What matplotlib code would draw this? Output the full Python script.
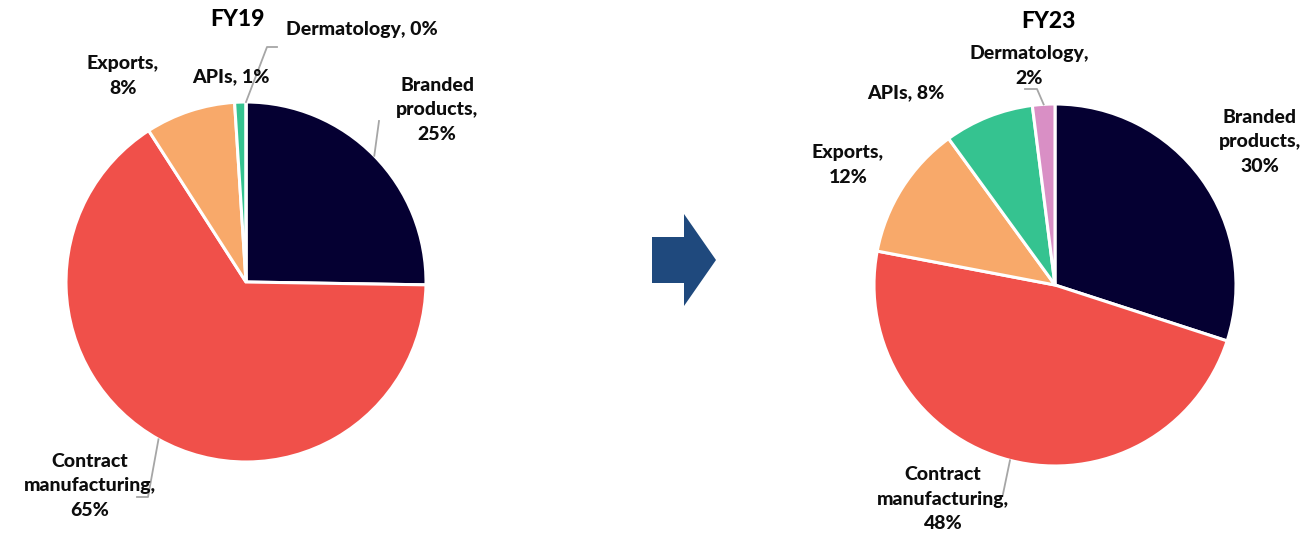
import matplotlib
matplotlib.use("Agg")
import matplotlib.pyplot as plt
from matplotlib.patches import Polygon
from matplotlib.lines import Line2D
import numpy as np

plt.rcParams['font.family'] = ['Lato', 'DejaVu Sans']

W, H = 1314, 536

segments = ["Branded\nproducts", "Contract\nmanufacturing", "Exports", "APIs", "Dermatology"]
colors = ["#050032", "#F0504A", "#F8A96A", "#35C390", "#D98FC5"]

fy19_share = [25, 65, 8, 1, 0]
fy23_share = [30, 48, 12, 8, 2]

# label text written as it appears next to each slice
fy19_labels = ["Branded\nproducts,\n25%", "Contract\nmanufacturing,\n65%", "Exports,\n8%",
               "APIs, 1%", "Dermatology, 0%"]
fy23_labels = ["Branded\nproducts,\n30%", "Contract\nmanufacturing,\n48%", "Exports,\n12%",
               "APIs, 8%", "Dermatology,\n2%"]

# canvas pixel layout: pie centre / radius, label centres, leader elbows
fy19_layout = dict(center=(246, 282), r=180, title=(238, 20),
                   text=[(437, 110), (90, 486), (123, 76), (231, 77), (362, 29)],
                   leaders={0: [(379, 121)], 1: [(137, 497), (148, 497)],
                            4: [(277, 47), (267, 47)]})
fy23_layout = dict(center=(1055, 285), r=181, title=(1048, 22),
                   text=[(1260, 142), (943, 499), (848, 165), (906, 93), (1029, 66)],
                   leaders={1: [(1003, 494)], 4: [(1025, 89), (1037, 89)]})


def fig_xy(x, y):
    return x / W, 1 - y / H


fig = plt.figure(figsize=(W / 100, H / 100), dpi=100)


def draw_pie(values, labels, title, lay):
    cx, cy = lay["center"]
    r = lay["r"]
    ax = fig.add_axes([(cx - r) / W, 1 - (cy + r) / H, 2 * r / W, 2 * r / H])
    wedges, _ = ax.pie(values, colors=colors, startangle=90, counterclock=False,
                       radius=1, wedgeprops=dict(edgecolor="white", linewidth=2.2))
    ax.set_xlim(-1, 1)
    ax.set_ylim(-1, 1)
    ax.set_aspect("equal")
    ax.axis("off")

    tx, ty = fig_xy(*lay["title"])
    fig.text(tx, ty, title, ha="center", va="center", fontsize=16.5, fontweight="black")

    for i, lab in enumerate(labels):
        lx, ly = fig_xy(*lay["text"][i])
        fig.text(lx, ly, lab, ha="center", va="center", fontsize=14,
                 fontweight="black", linespacing=1.55, color="#0d0d0d")

    to_fig = ax.transData + fig.transFigure.inverted()
    for i, pts in lay["leaders"].items():
        w = wedges[i]
        mid = np.deg2rad((w.theta1 + w.theta2) / 2)
        edge = to_fig.transform((np.cos(mid), np.sin(mid)))
        xs = [fig_xy(*p)[0] for p in pts] + [edge[0]]
        ys = [fig_xy(*p)[1] for p in pts] + [edge[1]]
        fig.add_artist(Line2D(xs, ys, color="#A6A6A6", linewidth=1.3,
                              transform=fig.transFigure))


draw_pie(fy19_share, fy19_labels, "FY19", fy19_layout)
draw_pie(fy23_share, fy23_labels, "FY23", fy23_layout)

# arrow between the two years
arrow_px = [(652, 237), (684, 237), (684, 214), (716, 260), (684, 306), (684, 283), (652, 283)]
fig.add_artist(Polygon([fig_xy(x, y) for x, y in arrow_px], closed=True,
                       facecolor="#1F497D", edgecolor="none", transform=fig.transFigure))

fig.savefig("out.png", dpi=100, facecolor="white")
